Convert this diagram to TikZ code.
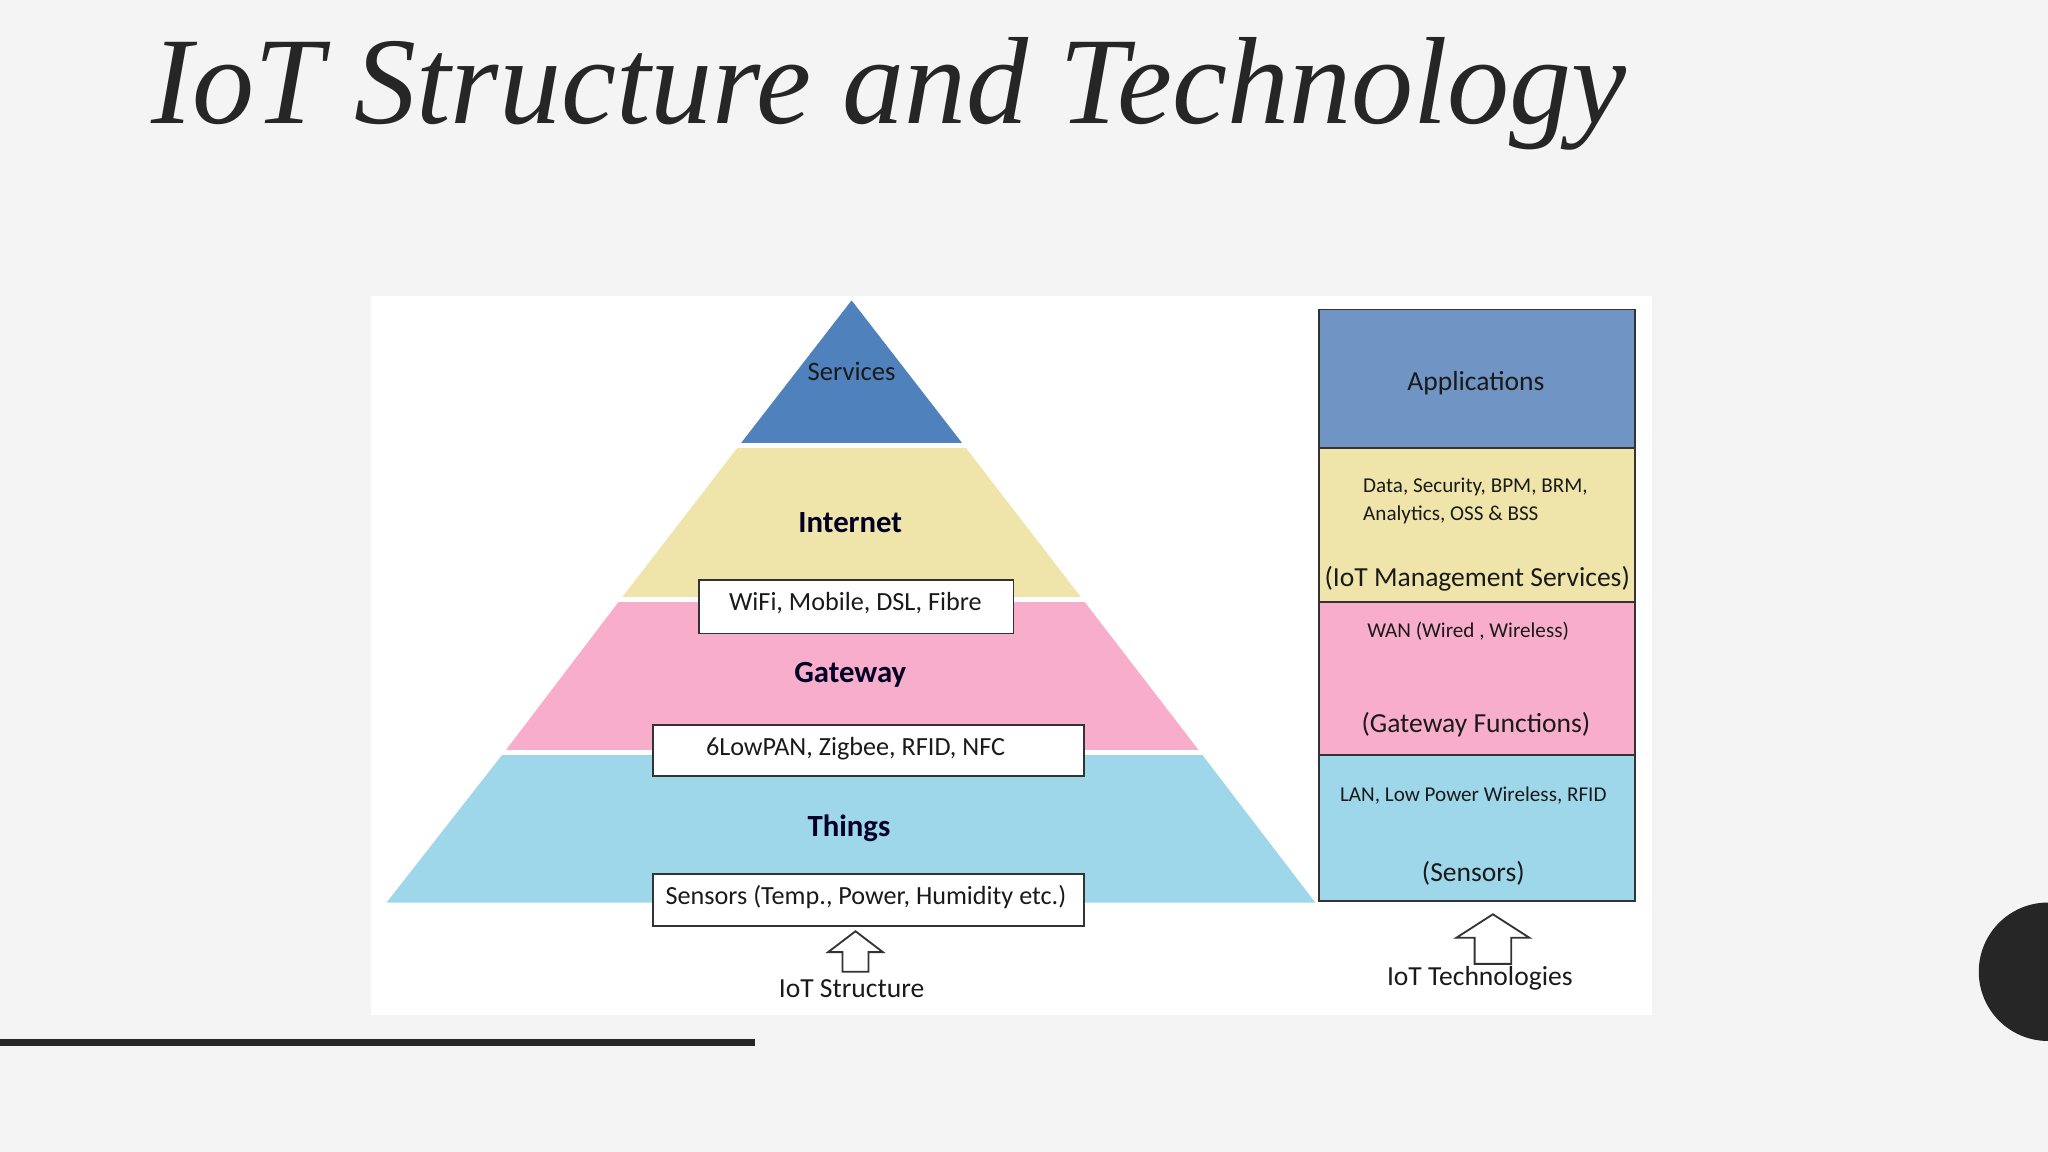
\documentclass[tikz,border=0pt]{standalone}
\usepackage{fontspec}
\setmainfont{Carlito}
\newfontfamily\titlefont{Liberation Serif}
\definecolor{bg}{HTML}{F4F4F4}
\definecolor{svc}{HTML}{4F81BD}
\definecolor{inet}{HTML}{EFE4A9}
\definecolor{gate}{HTML}{F8AECB}
\definecolor{thing}{HTML}{9DD7E9}
\definecolor{appc}{HTML}{7094C4}
\definecolor{txt}{HTML}{1A1A1A}
\tikzset{
 lbl/.style={font=\fontsize{5.4}{6.5}\selectfont,text=txt,inner sep=0},
 head/.style={font=\fontsize{6.7}{8}\selectfont\bfseries,text=black!85!blue,inner sep=0},
 wbox/.style={draw=black!80,fill=white,line width=0.4pt},
 col/.style={draw=black!80,line width=0.4pt},
 uparrow/.style={draw=black!80,fill=white,line width=0.4pt}
}
\begin{document}
\begin{tikzpicture}[x=0.01cm,y=-0.01cm]
\fill[bg] (0,0) rectangle (1568,882);
\useasboundingbox (0,0) rectangle (1568,882);
\node[anchor=west,font=\titlefont\itshape\fontsize{27}{32}\selectfont,text=black!85,inner sep=0] (title) at (115,72) {IoT Structure and Technology};
\fill[white] (284,227) rectangle (1265,777);
% pyramid layers
\fill[svc] (652,230) -- (738,341) -- (566,341) -- cycle;
\fill[inet] (566,341) -- (738,341) -- (829,459) -- (475,459) -- cycle;
\fill[gate] (475,459) -- (829,459) -- (919,576) -- (386,576) -- cycle;
\fill[thing] (386,576) -- (919,576) -- (1007,691) -- (296,691) -- cycle;
\draw[white,line width=1.2pt] (560,341) -- (744,341) (470,459) -- (834,459) (380,576) -- (925,576);
\node[lbl,font=\fontsize{5.8}{7}\selectfont] (svcs) at (652,284) {Services};
\node[head] (inetl) at (651,400) {Internet};
\node[head] (gatel) at (651,517) {Gateway};
\node[head] (thingl) at (650,634) {Things};
\draw[wbox] (535,444) rectangle (776,485);
\node[lbl,font=\fontsize{5.7}{7}\selectfont] (wifi) at (655,462) {WiFi, Mobile, DSL, Fibre};
\draw[wbox] (500,555) rectangle (830,594);
\node[lbl,font=\fontsize{5.7}{7}\selectfont] (lowpan) at (655,573) {6LowPAN, Zigbee, RFID, NFC};
\draw[wbox] (500,669) rectangle (830,709);
\node[lbl,font=\fontsize{5.7}{7}\selectfont] (sens) at (663,687) {Sensors (Temp., Power, Humidity etc.)};
% arrows
\draw[uparrow] (655,713) -- (676,729) -- (665,729) -- (665,744) -- (645,744) -- (645,729) -- (634,729) -- cycle;
\node[lbl,font=\fontsize{6}{7}\selectfont] (iots) at (652,757) {IoT Structure};
\draw[uparrow] (1143,700) -- (1171,718) -- (1157,718) -- (1157,738) -- (1129,738) -- (1129,718) -- (1115,718) -- cycle;
\node[lbl,font=\fontsize{6}{7}\selectfont] (iott) at (1133,749) {IoT Technologies};
% right column
\fill[appc] (1010,237) rectangle (1252,343);
\fill[inet] (1010,343) rectangle (1252,461);
\fill[gate] (1010,461) rectangle (1252,578);
\fill[thing] (1010,578) rectangle (1252,690);
\draw[col] (1010,237) rectangle (1252,690);
\draw[col] (1010,343) -- (1252,343) (1010,461) -- (1252,461) (1010,578) -- (1252,578);
\node[lbl,font=\fontsize{6}{7}\selectfont] (apps) at (1130,293) {Applications};
\node[lbl,anchor=north west,align=left,font=\fontsize{4.6}{6.2}\selectfont] (data) at (1043,365) {Data, Security, BPM, BRM,\\Analytics, OSS \& BSS};
\node[lbl,font=\fontsize{6}{7}\selectfont] (mgmt) at (1131,443) {(IoT Management Services)};
\node[lbl,font=\fontsize{4.6}{6}\selectfont] (wan) at (1124,483) {WAN (Wired , Wireless)};
\node[lbl,font=\fontsize{6}{7}\selectfont] (gwf) at (1130,555) {(Gateway Functions)};
\node[lbl,font=\fontsize{4.6}{6}\selectfont] (lan) at (1128,609) {LAN, Low Power Wireless, RFID};
\node[lbl,font=\fontsize{6}{7}\selectfont] (sensr) at (1128,669) {(Sensors)};
% decorations
\draw[black!85,line width=1.6pt] (0,798) -- (578,798);
\fill[black!85] (1568,744) circle (53);
\end{tikzpicture}
\end{document}
